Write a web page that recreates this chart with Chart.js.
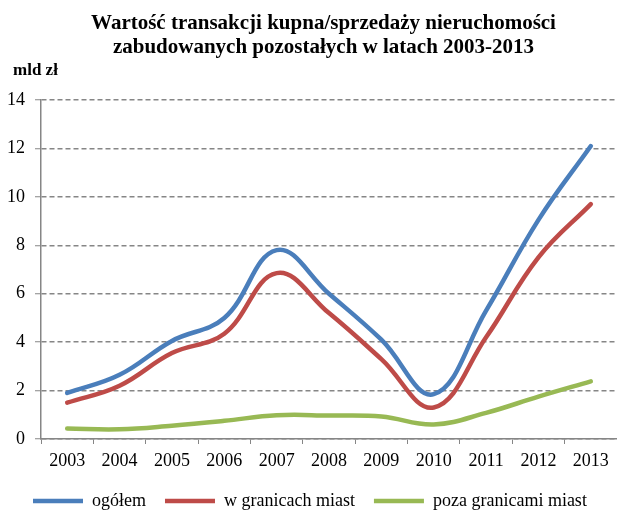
<!DOCTYPE html>
<html>
<head>
<meta charset="utf-8">
<script src="https://cdn.jsdelivr.net/npm/chart.js@4"></script>
<style>
  body { margin: 0; background: #fff; }
  #wrap { width: 617px; height: 510px; }
</style>
</head>
<body>
<div id="wrap"><canvas id="valueChart" width="617" height="510"></canvas></div>
<script>
// Years and values (mld zł)
const years = ['2003', '2004', '2005', '2006', '2007', '2008', '2009', '2010', '2011', '2012', '2013'];
const total = [1.9, 2.65, 4.05, 5.0, 7.8, 6.0, 4.1, 1.85, 5.3, 9.05, 12.1];
const inCities = [1.5, 2.2, 3.55, 4.35, 6.85, 5.2, 3.3, 1.3, 4.2, 7.5, 9.7];
const outsideCities = [0.43, 0.4, 0.55, 0.75, 0.98, 0.97, 0.93, 0.6, 1.08, 1.75, 2.38];
const yTicks = [0, 2, 4, 6, 8, 10, 12, 14];
const unitLabel = 'mld zł';

const serif = '"Liberation Serif", "Times New Roman", serif';
const axisGray = '#868686';

function series(label, data, color) {
    return {
        label: label,
        data: data,
        borderColor: color,
        backgroundColor: color,
        borderWidth: 4.5,
        borderCapStyle: 'round',
        borderJoinStyle: 'round',
        pointRadius: 0,
        pointHoverRadius: 0,
        tension: 0.4,
        fill: false
    };
}

// nudge the title over the plot, and the unit label / legend a bit to the right
const blockShift = {
    id: 'blockShift',
    afterLayout(chart) {
        chart.boxes.forEach(b => {
            if (b === chart.titleBlock) b.left = 30;
            else if (b.options && b.options.text === unitLabel) b.left = 13;
        });
        chart.legend.left = 14;
    }
};

const ctx = document.getElementById('valueChart').getContext('2d');
new Chart(ctx, {
    type: 'line',
    data: {
        labels: years,
        datasets: [
            series('ogółem', total, '#4a7ebb'),
            series('w granicach miast', inCities, '#be4b48'),
            series('poza granicami miast', outsideCities, '#98b954')
        ]
    },
    plugins: [blockShift],
    options: {
        responsive: false,
        animation: false,
        layout: { padding: { left: 3, right: 0, top: 0, bottom: -10 } },
        plugins: {
            tooltip: { enabled: false },
            title: {
                display: true,
                text: ['Wartość transakcji kupna/sprzedaży nieruchomości', 'zabudowanych pozostałych w latach 2003-2013'],
                color: '#000',
                font: { family: serif, size: 21, weight: 'bold', lineHeight: 1.143 },
                padding: { top: 12, bottom: 0 }
            },
            subtitle: {
                display: true,
                text: unitLabel,
                align: 'start',
                color: '#000',
                font: { family: serif, size: 17, weight: 'bold', lineHeight: 1.2 },
                padding: { top: 0, bottom: 19.6 }
            },
            legend: {
                position: 'bottom',
                align: 'start',
                labels: {
                    usePointStyle: true,
                    pointStyle: 'line',
                    pointStyleWidth: 50,
                    padding: 19,
                    color: '#000',
                    font: { family: serif, size: 18 }
                }
            }
        },
        scales: {
            x: {
                offset: true,
                afterFit: function (scale) {
                    scale.height = 34;
                },
                grid: {
                    offset: true,
                    drawOnChartArea: false,
                    drawTicks: true,
                    tickLength: 5,
                    tickColor: axisGray,
                    tickWidth: 1
                },
                border: { color: axisGray, width: 1.5 },
                ticks: {
                    color: '#000',
                    padding: 6,
                    maxRotation: 0,
                    font: { family: serif, size: 18 }
                }
            },
            y: {
                min: 0,
                max: 14,
                afterBuildTicks: function (scale) {
                    scale.ticks = yTicks.map(v => ({ value: v }));
                },
                afterFit: function (scale) {
                    scale.width = 38;
                },
                grid: {
                    color: axisGray,
                    lineWidth: 1.5,
                    tickLength: 6,
                    tickColor: axisGray,
                    tickWidth: 1,
                    tickBorderDash: []
                },
                border: { color: axisGray, width: 1.5, dash: [5, 3] },
                ticks: {
                    color: '#000',
                    padding: 10,
                    font: { family: serif, size: 18 }
                }
            }
        }
    }
});
</script>
</body>
</html>
